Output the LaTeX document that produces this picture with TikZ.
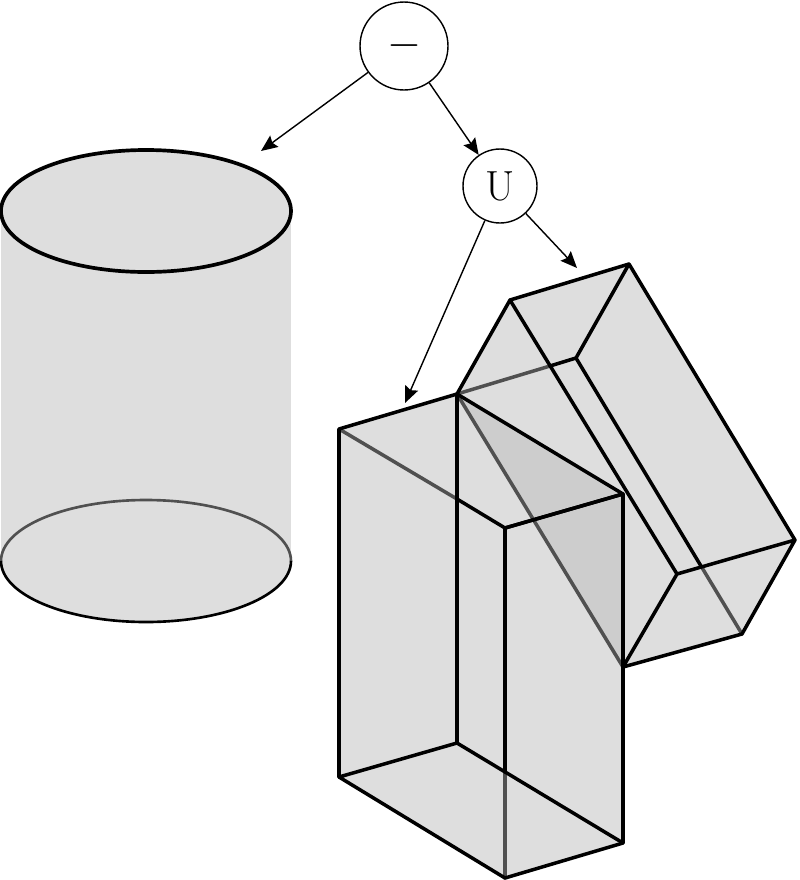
\documentclass[tikz,border=0pt]{standalone}
\usetikzlibrary{arrows.meta}
\definecolor{solidfill}{HTML}{DEDEDE}
\definecolor{overlapfill}{HTML}{CDCDCD}
\definecolor{hiddenline}{HTML}{505050}
\tikzset{
    opnode/.style={circle, draw, line width=0.8pt, inner sep=0pt, fill=white},
    tree/.style={->, line width=0.8pt},
    edge/.style={line width=2pt, line join=round, line cap=round},
    hidden/.style={edge, draw=hiddenline},
}
\begin{document}
\begin{tikzpicture}[>={Stealth[length=0.33cm,width=0.28cm,inset=0.05cm]}, x=0.02cm, y=-0.02cm]
    \useasboundingbox (0,0) rectangle (799,880);
    % cylinder
    \fill[solidfill] (1,211) rectangle (291,561);
    \fill[solidfill] (146,561) ellipse[x radius=145, y radius=61];
    \draw[fill=solidfill, line width=2.1pt] (146,211) ellipse[x radius=145, y radius=61];
    \draw[line width=1.5pt, draw=hiddenline] (1,561) arc[start angle=180, end angle=0, x radius=145, y radius=-61];
    \draw[line width=1.5pt] (1,561) arc[start angle=180, end angle=360, x radius=145, y radius=-61];
    % corners of the two boxes
    \coordinate (a) at (339,429);
    \coordinate (b) at (457,394);
    \coordinate (c) at (623,494);
    \coordinate (d) at (505,528);
    \coordinate (a1) at (339,777);
    \coordinate (b1) at (457,743);
    \coordinate (c1) at (623,843);
    \coordinate (d1) at (505,878);
    \coordinate (p) at (510,300);
    \coordinate (q) at (629,264);
    \coordinate (r) at (795,540);
    \coordinate (s) at (677,574);
    \coordinate (t) at (576,358);
    \coordinate (u) at (742,634);
    \coordinate (v) at (623,667);
    \fill[solidfill] (a)--(b)--(p)--(q)--(r)--(u)--(v)--(c1)--(d1)--(a1)--cycle;
    \fill[overlapfill] (b)--(c)--(v)--cycle;
    % lines seen through a face
    \draw[hidden] (b)--(550,366);
    \draw[hidden] (701,566)--(u);
    \draw[hidden] (b)--(v);
    \draw[hidden] (a)--(457,499);
    \draw[hidden] (505,772)--(d1);
    % second box
    \draw[edge] (b)--(p)--(q)--(r)--(u)--(v)--(s)--(r);
    \draw[edge] (p)--(s);
    \draw[edge] (q)--(t)--(550,366);
    \draw[edge] (t)--(701,566);
    % first box
    \draw[edge] (a1)--(a)--(b)--(c)--(d)--(457,499);
    \draw[edge] (b)--(b1)--(a1)--(d1)--(c1)--(c)--(d)--(505,772);
    \draw[edge] (b1)--(c1);
    % operators
    \node[opnode, minimum size=1.76cm, font=\fontsize{30}{30}\selectfont] (minus) at (404,46) {$-$};
    \node[opnode, minimum size=1.48cm, font=\fontsize{24}{24}\selectfont] (union) at (500,186) {U};
    \coordinate (cyl) at (261,151);
    \coordinate (boxa) at (405,403);
    \coordinate (boxb) at (577,268);
    \draw[tree] (minus)--(cyl);
    \draw[tree] (minus)--(union);
    \draw[tree] (union)--(boxa);
    \draw[tree] (union)--(boxb);
\end{tikzpicture}
\end{document}
